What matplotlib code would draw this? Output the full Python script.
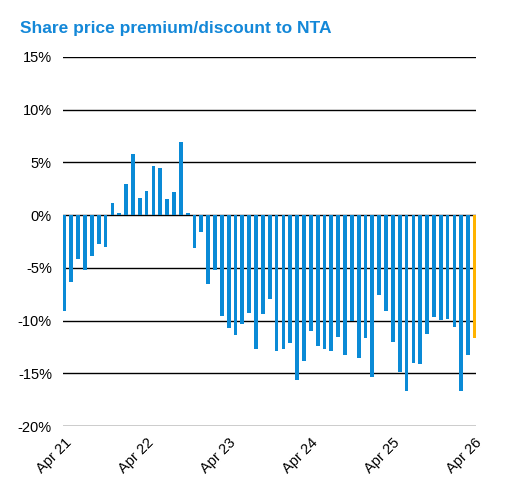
import numpy as np
import matplotlib.pyplot as plt

plt.rcParams['font.family'] = ['Liberation Sans', 'DejaVu Sans']

## DATA: monthly premium/discount (%) from Apr 21 to Apr 26
premium = [-9.05, -6.3, -4.2, -5.16, -3.9, -2.7, -3.0, 1.14, 0.22, 2.97,
           5.82, 1.61, 2.31, 4.68, 4.46, 1.49, 2.15, 6.9, 0.22, -3.16,
           -1.61, -6.49, -5.25, -9.53, -10.73, -11.39, -10.28, -9.24, -12.66, -9.34,
           -7.94, -12.85, -12.72, -12.09, -15.6, -13.8, -11.01, -12.44, -12.72, -12.91,
           -11.55, -13.29, -10.0, -13.51, -11.65, -15.32, -7.53, -9.05, -11.99, -14.84,
           -16.68, -14.05, -14.15, -11.27, -9.65, -9.9, -9.81, -10.63, -16.71, -13.29,
           -11.61]
tick_labels = ['Apr 21', 'Apr 22', 'Apr 23', 'Apr 24', 'Apr 25', 'Apr 26']
y_ticks = [15, 10, 5, 0, -5, -10, -15, -20]

blue = '#0A8AD6'
yellow = '#FFB300'

x = np.arange(len(premium))
colors = [blue] * (len(premium) - 1) + [yellow]

fig = plt.figure(figsize=(5.06, 4.91), dpi=100)
ax = fig.add_axes([63 / 506, 1 - 426 / 491, 413 / 506, 369 / 491])

for y in y_ticks:
    ax.axhline(y, color='black', lw=1.0, zorder=1)
ax.bar(x, premium, width=0.55, color=colors, zorder=2)

ax.set_ylim(-20, 15)
ax.set_xlim(-0.22, 60.15)
ax.set_yticks(y_ticks)
ax.set_yticklabels([f'{v}%' for v in y_ticks], fontsize=10.5)
ax.set_xticks(x[::12])
ax.set_xticklabels(tick_labels, rotation=45, ha='right', rotation_mode='anchor', fontsize=10.5)
ax.tick_params(axis='y', length=0, pad=8)
ax.tick_params(axis='x', length=0, pad=7)
for s in ax.spines.values():
    s.set_visible(False)

fig.text(20 / 506, 1 - 28 / 491, 'Share price premium/discount to NTA', color='#1488D8',
         fontsize=12.5, fontweight='bold', va='center', ha='left')

fig.savefig('out.png', dpi=100)
